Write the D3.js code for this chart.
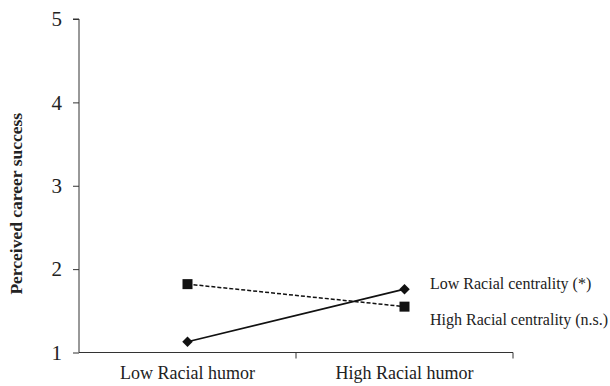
<!DOCTYPE html>
<html><head><meta charset="utf-8">
<script src="https://cdn.jsdelivr.net/npm/d3@7"></script>
<style>body{margin:0;background:#fff}svg{display:block}</style>
</head><body>
<svg id="c" width="610" height="386"></svg>
<script>
const categories = ["Low Racial humor", "High Racial humor"];
const lowCentrality = [1.13, 1.76];
const highCentrality = [1.82, 1.55];
const seriesLabels = ["Low Racial centrality (*)", "High Racial centrality (n.s.)"];
const yTicks = [1, 2, 3, 4, 5];

const svg = d3.select("#c");
const font = "'Liberation Serif','Times New Roman',serif";
const m = {l: 79, r: 97, t: 19, b: 33};
const W = 610, H = 386;
const x = d3.scaleBand().domain(categories).range([m.l, W - m.r]);
const y = d3.scaleLinear().domain([1, 5]).range([H - m.b - 0.5, m.t]);

const ya = svg.append("g").attr("transform", `translate(${m.l},0)`)
  .call(d3.axisLeft(y).tickValues(yTicks).tickSize(6).tickPadding(11).tickFormat(d3.format("d")));
ya.select(".domain").attr("d", `M-6,${y(5)}H0V${y(1)}`);
ya.selectAll("text").attr("font-family", font).attr("font-size", 21).attr("fill", "#222");
ya.selectAll("line,path").attr("stroke", "#333");

const xa = svg.append("g").attr("transform", `translate(0,${y(1)})`)
  .call(d3.axisBottom(x).tickSize(0).tickPadding(14));
xa.select(".domain").attr("d", `M${m.l},0H${W - m.r}V6`);
xa.selectAll("text").attr("font-family", font).attr("font-size", 18).attr("fill", "#222");
xa.selectAll("path").attr("stroke", "#333");
xa.append("line").attr("x1", x(categories[1])).attr("x2", x(categories[1])).attr("y1", 0).attr("y2", 6).attr("stroke", "#333");

const cx = d => x(d) + x.bandwidth() / 2;
const line = d3.line().x((d, i) => cx(categories[i])).y(d => y(d));

svg.append("path").datum(highCentrality).attr("d", line).attr("fill", "none")
  .attr("stroke", "#111").attr("stroke-width", 1.5).attr("stroke-dasharray", "4,2");
svg.append("path").datum(lowCentrality).attr("d", line).attr("fill", "none")
  .attr("stroke", "#111").attr("stroke-width", 1.6);

svg.selectAll(".sq").data(highCentrality).enter().append("rect")
  .attr("x", (d, i) => cx(categories[i]) - 5).attr("y", d => y(d) - 5)
  .attr("width", 10).attr("height", 10).attr("fill", "#111");
svg.selectAll(".dm").data(lowCentrality).enter().append("path")
  .attr("d", d3.symbol(d3.symbolDiamond2, 70))
  .attr("transform", (d, i) => `translate(${cx(categories[i])},${y(d)})`).attr("fill", "#111");

const last = categories.length - 1;
svg.append("text").attr("x", 430).attr("y", y(lowCentrality[last]) - 6).attr("dy", "0.35em")
  .attr("font-family", font).attr("font-size", 16).attr("fill", "#222").text(seriesLabels[0]);
svg.append("text").attr("x", 430).attr("y", y(highCentrality[last]) + 13).attr("dy", "0.35em")
  .attr("font-family", font).attr("font-size", 16).attr("fill", "#222").text(seriesLabels[1]);

svg.append("text").attr("transform", `translate(22,${(y(1) + y(5)) / 2 + 18}) rotate(-90)`)
  .attr("text-anchor", "middle").attr("font-family", font).attr("font-size", 17.5)
  .attr("font-weight", "bold").attr("fill", "#222").text("Perceived career success");
</script>
</body></html>
